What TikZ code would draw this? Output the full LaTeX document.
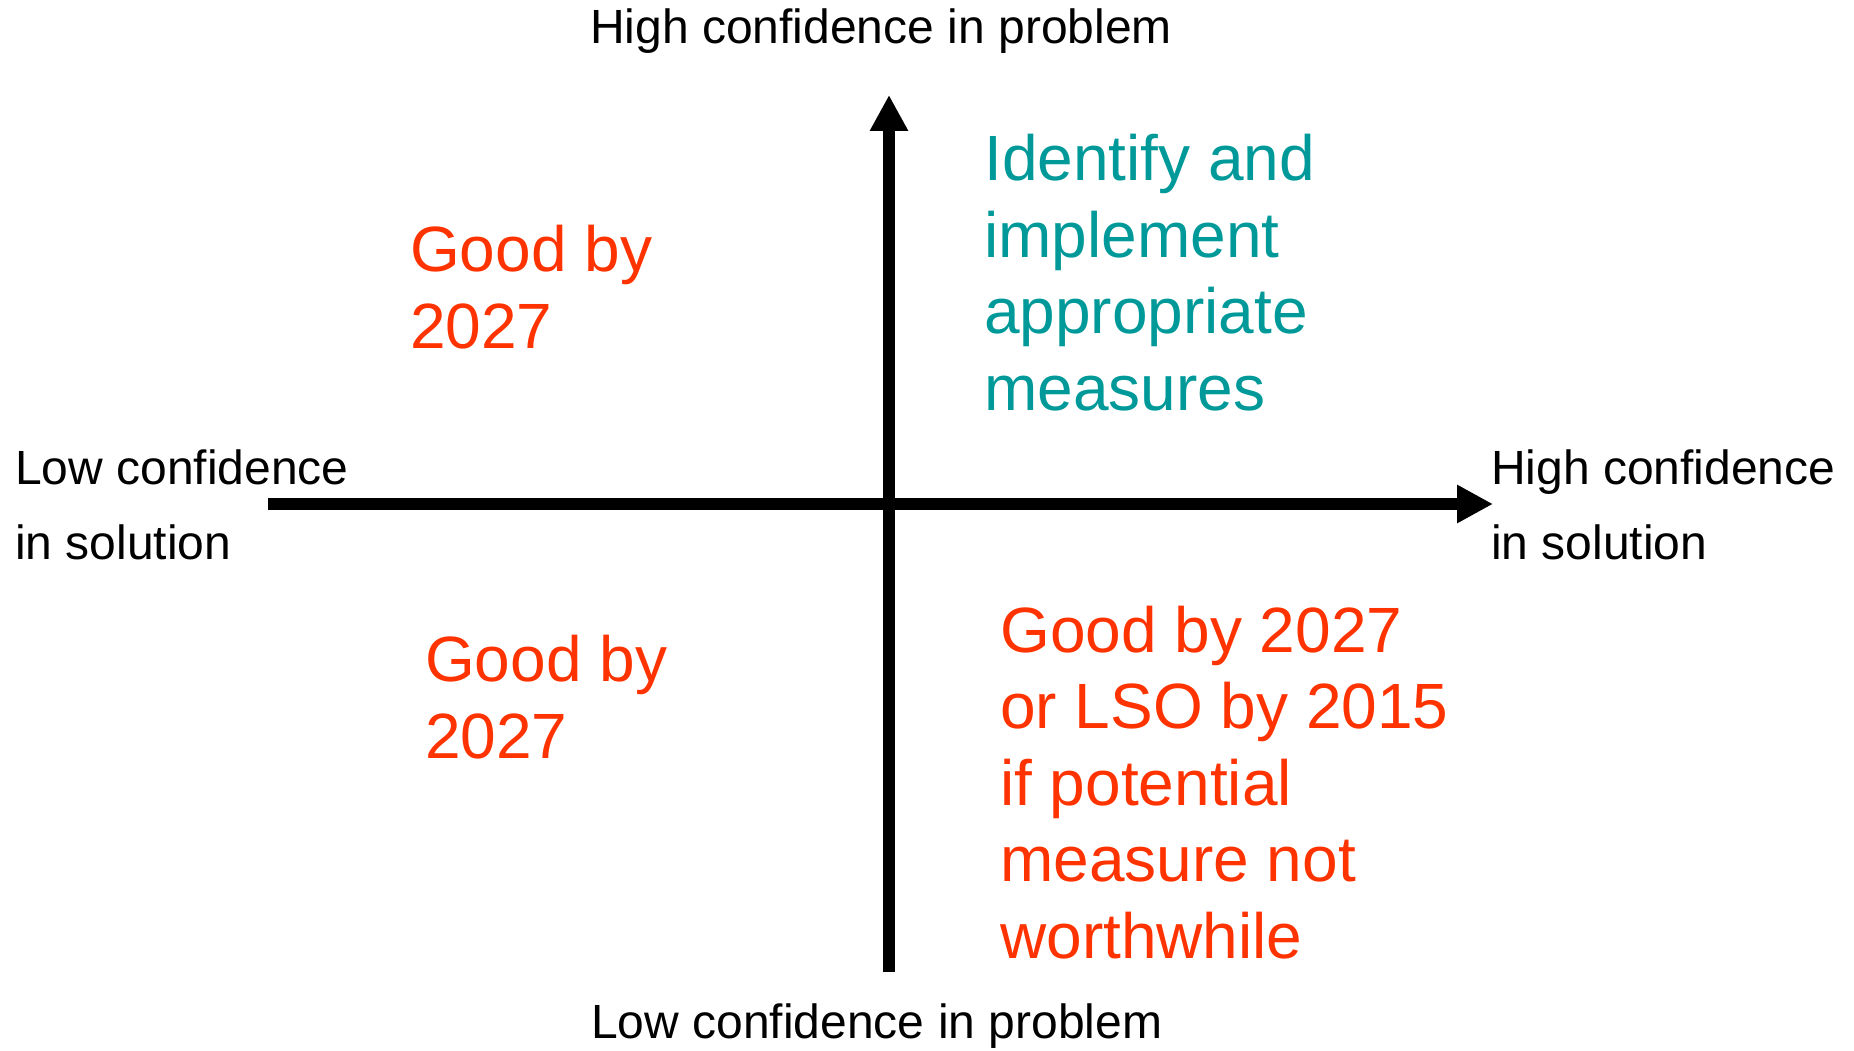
\documentclass[tikz,border=0pt]{standalone}
\usepackage{fontspec}
\setmainfont{Liberation Sans}
\usepackage{xcolor}
\usepackage{tikz}
\usetikzlibrary{arrows.meta}
\definecolor{Ink}{HTML}{000000}
\definecolor{Teal}{HTML}{009999}
\definecolor{Vermil}{HTML}{FF3300}

\begin{document}
\begin{tikzpicture}[x=1pt,y=-1pt,
    axis/.style={Ink,line width=12pt,-{Triangle[length=36pt,width=36pt]}},
    axislab/.style={Ink,inner sep=0pt,anchor=base west,align=left,font=\fontsize{48}{75}\selectfont},
    quad/.style={inner sep=0pt,anchor=base west,align=left,font=\fontsize{64}{76.5}\selectfont}]
  \useasboundingbox (0,0) rectangle (1854,1051);
  % axis ends
  \coordinate (pbot) at (889,972);
  \coordinate (ptop) at (889,95);
  \coordinate (sleft) at (268,504);
  \coordinate (sright) at (1493,504);
  \draw[axis] (pbot) -- (ptop);
  \draw[axis] (sleft) -- (sright);
  % axis labels (base = last line)
  \node[axislab] (hiprob) at (590,44) {High confidence in problem};
  \node[axislab] (loprob) at (591,1038) {Low confidence in problem};
  \node[axislab] (losol) at (15,559) {Low confidence\\in solution};
  \node[axislab] (hisol) at (1491,559) {High confidence\\in solution};
  % quadrants
  \node[quad,Vermil] (ql) at (410,348) {Good by\\2027};
  \node[quad,Teal] (qr) at (984,410) {Identify and\\implement\\appropriate\\measures};
  \node[quad,Vermil] (bl) at (425,758) {Good by\\2027};
  \node[quad,Vermil] (br) at (1000,958) {Good by 2027\\or LSO by 2015\\if potential\\measure not\\worthwhile};
\end{tikzpicture}
\end{document}
